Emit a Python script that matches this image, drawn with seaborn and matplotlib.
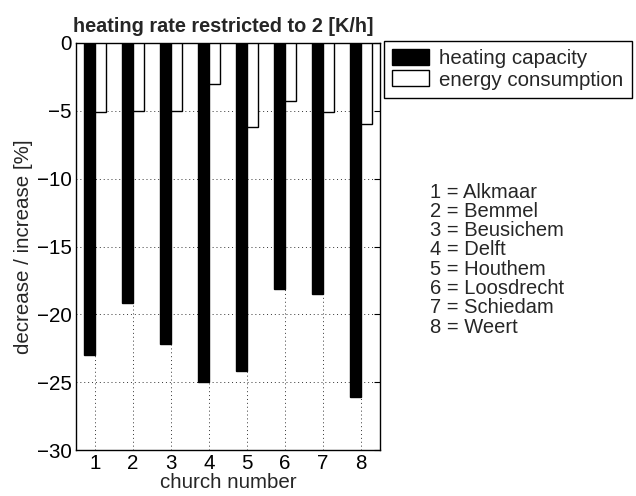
import matplotlib
matplotlib.use("Agg")
import matplotlib.pyplot as plt
import seaborn as sns
import pandas as pd

churches = [1, 2, 3, 4, 5, 6, 7, 8]
heating_capacity = [-23.0, -19.2, -22.2, -25.0, -24.2, -18.1, -18.5, -26.1]
energy_consumption = [-5.1, -5.0, -5.0, -3.0, -6.2, -4.3, -5.1, -6.0]
series_names = ["heating capacity", "energy consumption"]
church_names = ["Alkmaar", "Bemmel", "Beusichem", "Delft", "Houthem",
                "Loosdrecht", "Schiedam", "Weert"]
yticks = [0, -5, -10, -15, -20, -25, -30]

sns.set_style("white")
plt.rcParams['font.family'] = ['Liberation Sans', 'DejaVu Sans']
FS = 14.8

df = pd.DataFrame({
    "church": churches * 2,
    "value": heating_capacity + energy_consumption,
    "series": [series_names[0]] * 8 + [series_names[1]] * 8,
})

fig = plt.figure(figsize=(6.36, 4.96), dpi=100)
ax = fig.add_axes([76 / 636, 46 / 496, 304 / 636, 407 / 496])

sns.barplot(data=df, x="church", y="value", hue="series", hue_order=series_names,
            palette=["black", "white"], edgecolor="black", linewidth=1.0,
            width=0.58, gap=0, ax=ax, legend=True, zorder=3)

ax.set_xlim(-0.5, 7.5)
ax.set_ylim(-30, 0)
ax.set_yticks(yticks)
ax.set_xticks(range(8))
ax.set_xticklabels([str(c) for c in churches], fontsize=FS)
ax.set_yticklabels([str(t).replace("-", "\u2212") for t in yticks], fontsize=FS)
ax.set_axisbelow(True)
ax.grid(True, linestyle=(0, (1, 3)), color="black", linewidth=0.7, alpha=0.8)
ax.tick_params(direction="in", top=True, right=True, length=4, width=0.8,
               colors="black", pad=3, labelsize=FS)
for s in ax.spines.values():
    s.set_visible(True)
    s.set_color("black")
    s.set_linewidth(1.0)

ax.set_xlabel("church number", fontsize=FS, labelpad=0)
ax.set_ylabel("decrease / increase [%]", fontsize=FS, labelpad=3)
ax.set_title("heating rate restricted to 2 [K/h]", fontsize=14.3, fontweight="bold",
             loc="left", pad=8, x=-0.01)

leg = ax.legend(loc="upper left", bbox_to_anchor=(384 / 636, 1 - 41 / 496),
                bbox_transform=fig.transFigure, fontsize=FS, frameon=True,
                fancybox=False, edgecolor="black", framealpha=1,
                borderpad=0.4, handlelength=1.8, handleheight=0.82,
                handletextpad=0.48, labelspacing=0.1, borderaxespad=0)
leg.get_frame().set_linewidth(1.0)

for i, name in enumerate(church_names):
    fig.text(430 / 636, 1 - (192 + i * 19.3) / 496, f"{churches[i]} = {name}",
             fontsize=14.5, va="center", ha="left")

fig.savefig("out.png", dpi=100)
